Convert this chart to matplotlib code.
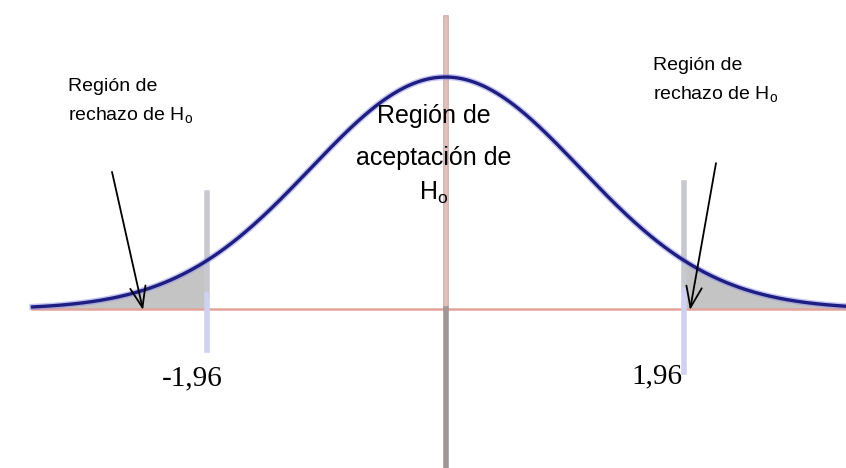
import numpy as np
import matplotlib
matplotlib.use("Agg")
from matplotlib import pyplot as plt

plt.rcParams['font.family'] = ['Liberation Sans', 'DejaVu Sans']
plt.rcParams['mathtext.fontset'] = 'custom'
plt.rcParams['mathtext.rm'] = 'Liberation Sans'

# data
crit = [-1.96, 1.96]
crit_labels = ["-1,96", "1,96"]
sigma = 1.11          # spread of the drawn bell (relative units, peak = 1)
z_min, z_max = -3.4, 3.3
side_text = ["Región de", r"rechazo de H$_\mathrm{o}$"]
center_text = ["Región de", "aceptación de", r"H$_\mathrm{o}$"]

z = np.linspace(z_min, z_max, 600)
dens = np.exp(-z**2 / (2 * sigma**2))

fig = plt.figure(figsize=(8.46, 4.68), dpi=100)
ax = fig.add_axes([0, 0, 1, 1])
ax.set_xlim(-3.667, 3.296)
ax.set_ylim(-0.685, 1.332)
ax.axis("off")

# shaded rejection tails
ax.fill_between(z, 0, dens, where=z <= crit[0], color="#c4c4c4", lw=0)
ax.fill_between(z, 0, dens, where=z >= crit[1], color="#c4c4c4", lw=0)

# baseline
ax.plot([z_min, z_max], [0, 0], color="#e2a49a", lw=1.8, zorder=2)

# centre line
ax.plot([0, 0], [0, 1.254], color="#bfa8a4", lw=4, zorder=2)
ax.plot([0, 0], [0, 1.254], color="#e3c0b9", lw=2.6, zorder=2)
ax.plot([0, 0], [-0.68, 0], color="#a39593", lw=4, zorder=2)

# critical value lines
ax.plot([crit[0]] * 2, [0.06, 0.5], color="#c8c8d0", lw=4, zorder=2)
ax.plot([crit[0]] * 2, [-0.177, 0.06], color="#d0d0f0", lw=4, zorder=2)
ax.plot([crit[1]] * 2, [0.082, 0.543], color="#c8c8d0", lw=4, zorder=2)
ax.plot([crit[1]] * 2, [-0.272, 0.082], color="#d0d0f0", lw=4, zorder=2)

# bell curve
ax.plot(z, dens, color="#8c8ce6", lw=4.5, alpha=0.5, zorder=3)
ax.plot(z, dens, color="#1e1e82", lw=2.4, zorder=4)

# critical labels
ax.text(-1.831, -0.328, crit_labels[0], family="Liberation Serif", fontsize=21,
        ha="right", va="baseline")
ax.text(1.947, -0.319, crit_labels[1], family="Liberation Serif", fontsize=21,
        ha="right", va="baseline")

# side texts
for i, s in enumerate(side_text):
    ax.text(-3.107, 0.94 - i * 0.129, s, fontsize=14, ha="left", va="baseline")
    ax.text(1.708, 1.03 - i * 0.129, s, fontsize=14, ha="left", va="baseline")

# centre text
for y, s in zip([0.802, 0.621, 0.47], center_text):
    ax.text(-0.095, y, s, fontsize=18, ha="center", va="baseline", zorder=5)

# arrows
arr = dict(arrowstyle="->,head_length=0.75,head_width=0.28", lw=1.3,
           color="black", mutation_scale=20, shrinkA=0, shrinkB=0)
ax.annotate("", xy=(-2.49, -0.004), xytext=(-2.745, 0.591), arrowprops=arr, zorder=6)
ax.annotate("", xy=(2.012, -0.004), xytext=(2.226, 0.629), arrowprops=arr, zorder=6)

fig.savefig("out.png", dpi=100)
